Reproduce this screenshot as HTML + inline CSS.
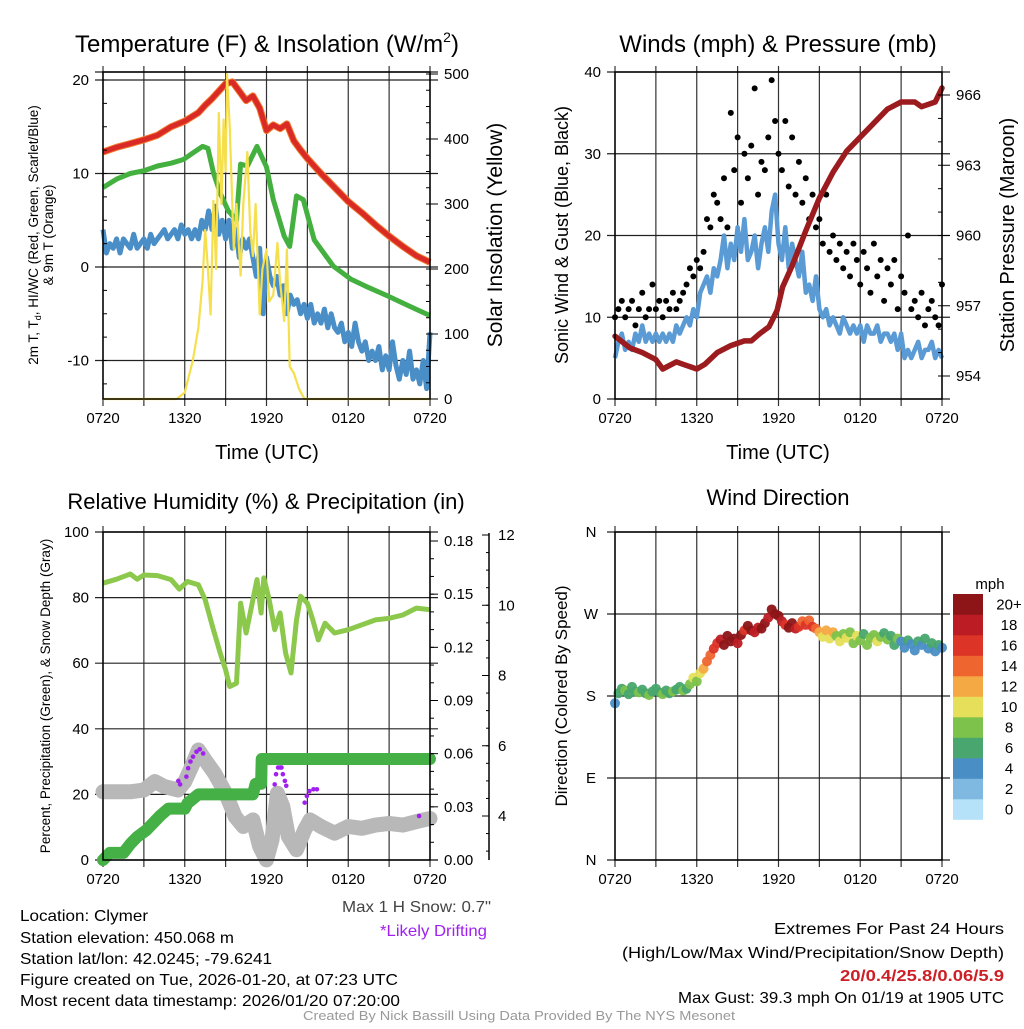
<!DOCTYPE html>
<html><head><meta charset="utf-8">
<style>
body{margin:0;background:#fff;width:1024px;height:1024px;overflow:hidden;font-family:"Liberation Sans",sans-serif;}
svg text{font-family:"Liberation Sans",sans-serif;}
</style></head>
<body>
<svg id="chart" width="1024" height="1024" viewBox="0 0 1024 1024" xmlns="http://www.w3.org/2000/svg">
<g id="grids"></g>
<g id="marks"></g>
<g id="axes"></g>
<g id="texts" font-size="16" fill="#000">
  <text x="267" y="52" font-size="24" text-anchor="middle">Temperature (F) &amp; Insolation (W/m<tspan font-size="14" dy="-10">2</tspan><tspan dy="10">)</tspan></text>
  <text x="778" y="52" font-size="24" text-anchor="middle">Winds (mph) &amp; Pressure (mb)</text>
  <text x="266" y="509" font-size="22" text-anchor="middle">Relative Humidity (%) &amp; Precipitation (in)</text>
  <text x="778" y="505" font-size="22" text-anchor="middle">Wind Direction</text>
  <text transform="translate(38,235) rotate(-90)" font-size="13.5" text-anchor="middle">2m T, T<tspan font-size="9" dy="3">d</tspan><tspan dy="-3">, HI/WC (Red, Green, Scarlet/Blue)</tspan></text>
  <text transform="translate(53,235) rotate(-90)" font-size="13.5" text-anchor="middle">&amp; 9m T (Orange)</text>
  <text transform="translate(502,235) rotate(-90)" font-size="21" text-anchor="middle">Solar Insolation (Yellow)</text>
  <text x="267" y="459" font-size="20" text-anchor="middle">Time (UTC)</text>
  <text x="778" y="459" font-size="20" text-anchor="middle">Time (UTC)</text>
  <text transform="translate(568,235) rotate(-90)" font-size="18" text-anchor="middle">Sonic Wind &amp; Gust (Blue, Black)</text>
  <text transform="translate(1014,235) rotate(-90)" font-size="20" text-anchor="middle">Station Pressure (Maroon)</text>
  <text transform="translate(50,696) rotate(-90)" font-size="13.5" text-anchor="middle">Percent, Precipitation (Green), &amp; Snow Depth (Gray)</text>
  <text transform="translate(567,696) rotate(-90)" font-size="17" text-anchor="middle">Direction (Colored By Speed)</text>
  <text x="990" y="589" font-size="15" text-anchor="middle">mph</text>
  <text x="342" y="912" textLength="149" lengthAdjust="spacingAndGlyphs" fill="#444">Max 1 H Snow: 0.7"</text>
  <text x="380" y="936" textLength="107" lengthAdjust="spacingAndGlyphs" fill="#a020f0">*Likely Drifting</text>
  <text x="20" y="921" textLength="128" lengthAdjust="spacingAndGlyphs">Location: Clymer</text>
  <text x="20" y="943" textLength="214" lengthAdjust="spacingAndGlyphs">Station elevation: 450.068 m</text>
  <text x="20" y="964" textLength="252" lengthAdjust="spacingAndGlyphs">Station lat/lon: 42.0245; -79.6241</text>
  <text x="20" y="985" textLength="378" lengthAdjust="spacingAndGlyphs">Figure created on Tue, 2026-01-20, at 07:23 UTC</text>
  <text x="20" y="1006" textLength="380" lengthAdjust="spacingAndGlyphs">Most recent data timestamp: 2026/01/20 07:20:00</text>
  <text x="774" y="934" textLength="230" lengthAdjust="spacingAndGlyphs">Extremes For Past 24 Hours</text>
  <text x="622" y="958" textLength="382" lengthAdjust="spacingAndGlyphs">(High/Low/Max Wind/Precipitation/Snow Depth)</text>
  <text x="840" y="981" textLength="164" lengthAdjust="spacingAndGlyphs" fill="#cc1f26" font-weight="bold">20/0.4/25.8/0.06/5.9</text>
  <text x="678" y="1003" textLength="326" lengthAdjust="spacingAndGlyphs">Max Gust: 39.3 mph On 01/19 at 1905 UTC</text>
  <text x="303" y="1020" font-size="13" textLength="432" lengthAdjust="spacingAndGlyphs" fill="#999">Created By Nick Bassill Using Data Provided By The NYS Mesonet</text>
</g>
</svg>
<script>
// ---------- data ----------
const timeLabels = ["0720","1320","1920","0120","0720"];
// Panel 1: temperature (half / irregular hours)
const redT = [0,1,2,3,4,5,6,7,7.5,8,8.5,9,9.5,10,10.5,11,11.5,12,12.5,13,13.5,14,14.5,15,16,17,18,19,20,21,22,23,24];
const redV = [12.3,12.8,13.2,13.6,14.1,15,15.6,16.5,17.3,18,18.8,19.6,19.8,18.8,17.8,18.3,17,14.6,15.2,14.8,15.3,13.5,12.5,11.6,10,8.5,7,5.8,4.5,3.3,2.2,1.2,0.5];
const greenT = [0,1,2,3,4,5,5.9,6.6,7.3,7.7,8.1,8.6,9.2,9.8,10.1,10.6,11.3,12,12.5,13.3,13.7,14.2,14.7,15.5,16.9,18.2,19.5,20.9,22.5,24];
const greenV = [8.5,9.4,10,10.3,10.8,11.1,11.5,12.2,12.9,12.7,10.1,7.9,6,5,11,10.8,12.9,10.7,7.2,3.3,2.2,7.6,7.2,2.9,0.1,-1.3,-2.2,-3.1,-4.2,-5.2];
const blueV = [4,1.5,2.5,2,3,1.5,3,2.5,2,3.5,2,2.5,3,2,3.5,2.5,3,3.5,4,3,3.5,4,3,4.5,3.5,4,3,4,3,5,4,6,4,6.5,3.5,5,3,5,2,4,1,3,2,3,1,-1,2,-5,1,-1,-2,-1,-3,-2,-5,-3,-4,-3.5,-5,-4,-5.5,-4,-6,-5,-6,-4.5,-6.5,-5,-6.5,-7,-6,-8,-7,-8.5,-6,-8,-9,-8,-10,-9,-10,-8.5,-11,-9.5,-11,-8,-10.5,-12,-10,-11.5,-9,-12,-11,-12.5,-10,-13,-7];
const solarT = [0,5.4,6.0,6.6,7.0,7.3,7.5,7.7,7.9,8.1,8.3,8.5,8.7,8.85,9.0,9.1,9.3,9.6,9.8,10.1,10.3,10.6,10.8,11.0,11.2,11.5,11.7,12.0,12.2,12.5,12.8,13.0,13.3,13.5,13.7,14.0,14.4,14.8,24];
const solarV = [0,0,10,60,110,180,260,200,130,305,200,440,300,430,350,500,420,230,300,190,300,380,260,220,300,130,200,230,150,160,240,180,120,230,50,40,15,0,0];
// Panel 2: winds (quarter-hourly) & pressure
const windV = [5,7,8,6,7,6,8,7,9,7,8,7,8,7,8,7,8,7,9,8,9,10,9,11,10,13,14,15,13,16,15,17,20,16,19,17,21,18,22,17,18,20,16,19,21,18,23,25,19,17,21,16,19,17,15,18,13,14,12,15,11,10,11,9,10,9,8,10,9,8,9,8,9,7,9,8,8,9,7,8,8,7,8,6,8,5,6,5,6,7,5,6,6,7,5,6,5];
const gustV = [10,11,12,10,11,12,9,11,13,10,11,14,11,12,10,12,11,13,11,12,13,14,16,15,17,16,18,22,21,25,24,22,27,21,35,28,32,24,30,27,31,38,25,29,28,32,39,34,30,28,34,26,32,25,29,24,27,22,25,21,22,19,25,18,20,17,19,16,18,15,19,17,14,18,16,13,19,15,17,12,16,14,17,11,15,13,20,11,12,10,13,9,11,12,10,9,14];
const presT = [0,1.1,2,3,3.5,4.5,5,6,6.6,7.5,8.5,9.5,10,10.6,11.3,11.9,12.3,13,14,15,16,17,18,19,20,21,22,22.5,23.5,24];
const presV = [955.7,955.2,955.0,954.7,954.3,954.6,954.5,954.3,954.5,955.0,955.3,955.5,955.5,955.8,956.1,956.8,957.8,958.7,960.2,961.6,962.7,963.6,964.2,964.8,965.4,965.7,965.7,965.5,965.7,966.3];
// Panel 3: RH, precip, snow
const rhT = [0,1,2,2.5,3,4,5,5.6,6.2,7,7.5,8.1,8.6,9,9.3,9.8,10.1,10.5,10.8,11.3,11.6,11.8,12.2,12.6,13,13.4,13.8,14.2,14.5,15,15.4,15.8,16.3,17,18,19,20,21,22,23,24];
const rhV = [84.4,85.6,87.2,85.6,86.9,86.7,85.5,82.6,84.9,83.9,79.3,70.2,63.1,58,52.9,53.9,78.3,69.2,75.3,85.5,75.3,86,79.3,70.2,75.3,63.1,57,73.2,80.4,78.3,73.2,67.1,72.2,69.2,70.2,71.7,73.2,73.7,74.7,76.8,76.3];
const precipT = [0,0.5,1.5,2,2.5,3.2,3.7,4.2,4.8,6,6.2,7,11,11.2,11.6,11.65,24];
const precipV = [0,0.004,0.004,0.009,0.013,0.017,0.021,0.025,0.029,0.029,0.032,0.037,0.037,0.043,0.043,0.057,0.057];
const snowT = [0,2,3,3.8,4.5,5.5,6,6.5,7,7.5,8.2,9,9.7,10.3,11,11.5,12,12.4,12.8,13.2,13.6,14.2,14.8,15.2,16,17,18,19,20,21,22,23,24];
const snowV = [4.69,4.69,4.74,4.98,4.84,4.74,4.98,5.4,5.88,5.59,5.21,4.65,3.98,3.7,3.89,3.13,2.75,3.32,4.65,4.27,3.42,3.04,3.6,3.89,3.7,3.51,3.7,3.65,3.74,3.79,3.74,3.84,3.93];
const driftT = [5.53,5.66,6.12,6.25,6.42,6.61,6.86,7.1,7.35,12.6,12.7,12.85,13.0,13.1,13.2,13.35,13.45,14.8,14.96,15.15,15.45,15.7,23.2];
const driftV = [5.0,4.9,5.12,5.36,5.55,5.69,5.83,5.9,5.78,4.9,5.19,5.38,5.38,5.38,5.19,5.0,4.86,4.38,4.57,4.71,4.76,4.76,4.0];
// Panel 4: direction & speed (quarter-hourly)
const dirV = [172,183,188,186,182,190,185,184,187,183,181,185,188,184,182,186,183,185,187,190,186,188,193,200,196,205,210,218,225,232,238,242,236,246,240,243,238,247,252,257,252,250,255,254,260,266,275,270,268,262,258,255,260,254,256,262,258,263,256,254,250,245,252,243,250,246,240,248,244,250,238,246,241,248,236,244,247,240,245,249,242,246,236,243,240,233,241,237,230,240,236,243,232,238,229,236,233];
const spdV = [4,7,6,8,7,6,7,8,6,7,8,7,6,7,8,6,7,8,7,6,8,7,9,10,8,11,13,14,15,16,17,18,20,21,20,22,18,20,17,21,20,19,18,21,20,19,22,21,20,19,17,20,21,18,16,15,17,14,16,15,12,11,13,10,12,9,10,8,11,9,8,10,9,7,8,9,8,10,8,7,9,7,6,8,5,4,6,5,4,7,5,6,4,7,5,6,4];
const cbLabels = ["0","2","4","6","8","10","12","14","16","18","20+"];
const cbColors = ["#b5e2f8","#7fb9e2","#4a8ec6","#48a66e","#7dc24b","#e6df5a","#f5a945","#ee6530","#dc3427","#bc1d24","#8d1517"];
const leftTicks1 = [-10,0,10,20], rightTicks1=[0,100,200,300,400,500];
const leftTicks2 = [0,10,20,30,40], rightTicks2=[954,957,960,963,966];
const leftTicks3 = [0,20,40,60,80,100], precipTicks=["0.00","0.03","0.06","0.09","0.12","0.15","0.18"], snowTicks=[4,6,8,10,12];
const dirTicks = ["N","E","S","W","N"];

// ---------- helpers ----------
const NS="http://www.w3.org/2000/svg";
const G=document.getElementById('grids'),M=document.getElementById('marks'),A=document.getElementById('axes');
function mk(tag,parent,attrs){const e=document.createElementNS(NS,tag);for(const k in attrs)e.setAttribute(k,attrs[k]);parent.appendChild(e);return e;}
function lin(d0,d1,r0,r1){return v=>r0+(v-d0)/(d1-d0)*(r1-r0);}
function path(xs,ys,xf,yf){return xs.map((t,i)=>(i?'L':'M')+xf(t).toFixed(1)+' '+yf(ys[i]).toFixed(1)).join(' ');}
const qT = windV.map((_,i)=>i*0.25);

function frame(x0,x1,y0,y1,name){
  const xs=lin(0,24,x0,x1);
  for(let h=0;h<=24;h+=3){
    const l=mk('line',G,{x1:xs(h),x2:xs(h),y1:y0-6,y2:y1+7,stroke:'#333','stroke-width':1.2});
    
    
  }
  timeLabels.forEach((s,i)=>{const t=mk('text',A,{x:xs(i*6),y:y1+24,'font-size':15,'text-anchor':'middle'});t.textContent=s;
    
    });
  const r=mk('rect',A,{x:x0,y:y0,width:x1-x0,height:y1-y0,fill:'none',stroke:'#000','stroke-width':1.5});
  
  
  return xs;
}
function hgrid(y,x0,x1,name){const l=mk('line',G,{x1:x0-8,x2:x1+8,y1:y,y2:y,stroke:'#222','stroke-width':1.2});
  
  }
function label(x,y,s,anchor,name){const t=mk('text',A,{x:x,y:y+5,'font-size':15,'text-anchor':anchor});t.textContent=s;
  
  }
function tick(x,y,len){mk('line',A,{x1:x,x2:x+len,y1:y,y2:y,stroke:'#000','stroke-width':1});}

// ---------- Panel 1 ----------
(function(){
  const x0=103,x1=430,y0=72,y1=399;
  const xs=frame(x0,x1,y0,y1,'temp');
  const yL=lin(0,10,267,173.5), yR=lin(0,500,399,74);
  leftTicks1.forEach(v=>{hgrid(yL(v),x0,x1,'temp-hgrid');label(x0-14,yL(v),String(v),'end','temp-y-tick-label');});
  hgrid(y0,x0,x1,'temp-top-grid');
  rightTicks1.forEach(v=>{tick(x1,yR(v),8);label(x1+14,yR(v),String(v),'start','insolation-tick-label');});
  for(let v=0;v<=500;v+=25)tick(x1,yR(v),-4);
  for(let v=-12.5;v<=20;v+=2.5)tick(x0,yL(v),4);
  let p;
  p=mk('path',M,{d:path(qT,blueV,xs,yL),fill:'none',stroke:'#4a8ec8','stroke-width':5,'stroke-linejoin':'round'});
  
  
  p=mk('path',M,{d:path(greenT,greenV,xs,yL),fill:'none',stroke:'#44b03f','stroke-width':5,'stroke-linejoin':'round'});
  
  
  p=mk('path',M,{d:path(redT,redV,xs,yL),fill:'none',stroke:'#f07b30','stroke-width':7,'stroke-linejoin':'round'});
  
  
  p=mk('path',M,{d:path(redT,redV,xs,yL),fill:'none',stroke:'#d92a25','stroke-width':5,'stroke-linejoin':'round'});
  
  
  p=mk('path',M,{d:path(solarT,solarV,xs,yR),fill:'none',stroke:'#f5df4d','stroke-width':2.2,'stroke-linejoin':'round'});
  
  
})();

// ---------- Panel 2 ----------
(function(){
  const x0=615,x1=942,y0=72,y1=399;
  const xs=frame(x0,x1,y0,y1,'wind');
  const yL=lin(0,40,399,72), yR=lin(954,966,376,95);
  leftTicks2.forEach(v=>{hgrid(yL(v),x0,x1,'wind-hgrid');label(x0-14,yL(v),String(v),'end','wind-y-tick-label');});
  rightTicks2.forEach(v=>{tick(x1,yR(v),8);label(x1+14,yR(v),String(v),'start','pressure-tick-label');});
  for(let v=954;v<=966;v+=1)tick(x1,yR(v),-4);
  let p=mk('path',M,{d:path(qT,windV,xs,yL),fill:'none',stroke:'#5a9bd5','stroke-width':4.5,'stroke-linejoin':'round'});
  
  
  gustV.forEach((g,i)=>{const c=mk('circle',M,{cx:xs(qT[i]),cy:yL(g),r:3,fill:'#000'});
    
    });
  p=mk('path',M,{d:path(presT,presV,xs,yR),fill:'none',stroke:'#9b1b1e','stroke-width':5.5,'stroke-linejoin':'round','stroke-linecap':'round'});
  
  
})();

// ---------- Panel 3 ----------
(function(){
  const x0=103,x1=430,y0=532,y1=860;
  const xs=frame(x0,x1,y0,y1,'rh');
  const yL=lin(0,100,860,532), yP=lin(0,0.18,860,541), yS=lin(4,12,816,535);
  leftTicks3.forEach(v=>{hgrid(yL(v),x0,x1,'rh-hgrid');label(x0-14,yL(v),String(v),'end','rh-y-tick-label');});
  precipTicks.forEach(s=>{const v=parseFloat(s);tick(x1,yP(v),8);label(x1+14,yP(v),s,'start','precip-tick-label');});
  for(let v=0;v<=0.18;v+=0.01)tick(x1,yP(v),4);
  mk('line',A,{x1:489,x2:489,y1:533,y2:860,stroke:'#000','stroke-width':1.5});
  snowTicks.forEach(v=>{tick(489,yS(v),-7);label(498,yS(v),String(v),'start','snow-tick-label');});
  for(let v=3;v<=12;v+=0.5)tick(489,yS(v),-3);
  let p=mk('path',M,{d:path(rhT,rhV,xs,yL),fill:'none',stroke:'#8cc84b','stroke-width':5,'stroke-linejoin':'round'});
  
  
  p=mk('path',M,{d:path(snowT,snowV,xs,yS),fill:'none',stroke:'#b8b8b8','stroke-width':15,'stroke-linejoin':'round','stroke-linecap':'round'});
  
  
  p=mk('path',M,{d:path(precipT,precipV,xs,yP),fill:'none',stroke:'#45b045','stroke-width':12,'stroke-linejoin':'round','stroke-linecap':'round'});
  
  
  driftT.forEach((t,i)=>{const c=mk('circle',M,{cx:xs(t),cy:yS(driftV[i]),r:2.3,fill:'#a020f0'});
    
    });
})();

// ---------- Panel 4 ----------
(function(){
  const x0=615,x1=942,y0=532,y1=860;
  const xs=frame(x0,x1,y0,y1,'direction');
  const yD=lin(0,360,860,532);
  dirTicks.forEach((s,i)=>{hgrid(yD(i*90),x0,x1,'direction-hgrid');label(x0-24,yD(i*90),s,'middle','direction-tick-label');});
  dirV.forEach((d,i)=>{const b=Math.min(10,Math.floor(spdV[i]/2));
    const c=mk('circle',M,{cx:xs(qT[i]),cy:yD(d),r:5,fill:cbColors[b],'fill-opacity':0.95});
    
    });
  const bx=953,bw=30,bh=20.5,btop=594;
  cbLabels.forEach((s,i)=>{const y=btop+(10-i)*bh;
    const r=mk('rect',A,{x:bx,y:y,width:bw,height:bh+0.3,fill:cbColors[i]});
    
    
    label(1009,y+bh/2,s,'middle','colorbar-label');});
})();
</script>
</body></html>
